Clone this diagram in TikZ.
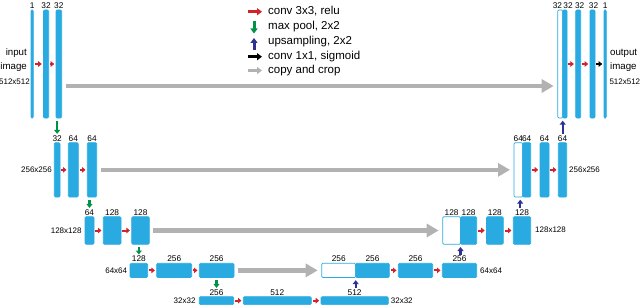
\documentclass[tikz,border=0pt]{standalone}
\usepackage{fontspec}
\setmainfont{Liberation Sans}
\usetikzlibrary{arrows.meta}
\definecolor{barblue}{RGB}{41,171,226}
\definecolor{convred}{RGB}{210,35,42}
\definecolor{poolgreen}{RGB}{0,146,69}
\definecolor{upnavy}{RGB}{46,49,146}
\definecolor{copygray}{RGB}{178,178,178}
\newcommand\ubar[6][bar]{\node[#1, minimum width={(#4-#2)*1pt}, minimum height={(#5-#3)*1pt}] (#6) at ({(#2+#4)/2},{(#3+#5)/2}) {};}
\tikzset{
  bar/.style={draw=barblue, fill=barblue, line width=0.7pt, rounded corners=1.2pt, inner sep=0pt, outer sep=0pt},
  wbar/.style={bar, fill=white},
  num/.style={font=\fontsize{8.3}{9}\selectfont, inner sep=0pt, anchor=base},
  dimlbl/.style={font=\fontsize{8}{9}\selectfont, inner sep=0pt, text height=5.8pt, text depth=0pt},
  io/.style={font=\fontsize{9.7}{11}\selectfont, inner sep=0pt, text height=7pt, text depth=2pt},
  leg/.style={font=\fontsize{11.5}{13}\selectfont, inner sep=0pt, anchor=west, text height=8.3pt, text depth=2.4pt},
  conv/.style={draw=convred, line width=2pt, -{Triangle[length=3.5pt,width=5.5pt]}, shorten <=1.2pt, shorten >=1.8pt},
  fin/.style={conv, draw=black},
  pool/.style={draw=poolgreen, line width=2.2pt, -{Triangle[length=4pt,width=6pt]}, shorten <=2.7pt, shorten >=8.8pt},
  upc/.style={draw=upnavy, line width=2.2pt, -{Triangle[length=4pt,width=6pt]}, shorten <=8.7pt, shorten >=2.7pt},
  copyc/.style={draw=copygray, line width=4.5pt, -{Triangle[length=12pt,width=13pt]}, shorten <=4pt, shorten >=4pt},
  legline/.style={line width=3pt, -{Triangle[length=5pt,width=7pt]}},
}
\begin{document}
\begin{tikzpicture}[x=1pt,y=-1pt]
\useasboundingbox (0,0) rectangle (640,305);
% ---------- legend ----------
\coordinate (lg1a) at (248,11.7); \coordinate (lg1b) at (262,11.7);
\coordinate (lg2a) at (254,21.5); \coordinate (lg2b) at (254,33.5);
\coordinate (lg3a) at (254,50);   \coordinate (lg3b) at (254,38);
\coordinate (lg4a) at (248,56.7); \coordinate (lg4b) at (262,56.7);
\coordinate (lg5a) at (248,70.5); \coordinate (lg5b) at (262,70.5);
\draw[legline, draw=convred] (lg1a) -- (lg1b);
\draw[legline, draw=poolgreen] (lg2a) -- (lg2b);
\draw[legline, draw=upnavy] (lg3a) -- (lg3b);
\draw[legline, draw=black] (lg4a) -- (lg4b);
\draw[legline, draw=copygray] (lg5a) -- (lg5b);
\node[leg] (lt1) at (268,11.7) {conv 3x3, relu};
\node[leg] (lt2) at (268,26.3) {max pool, 2x2};
\node[leg] (lt3) at (268,41.5) {upsampling, 2x2};
\node[leg] (lt4) at (268,56.3) {conv 1x1, sigmoid};
\node[leg] (lt5) at (268,70.5) {copy and crop};
% ---------- row 1 ----------
\ubar{31}{10}{33.3}{118}{r1a}
\ubar{43.5}{10}{48.7}{118}{r1b}
\ubar{56}{10}{61.7}{118}{r1c}
\ubar[wbar]{557.7}{10}{562.7}{118}{r1w}
\ubar{562.7}{10}{567}{118}{r1d}
\ubar{575.7}{10}{580.7}{118}{r1e}
\ubar{590}{10}{595}{118}{r1f}
\ubar{604}{10}{606.3}{118}{r1g}
% ---------- row 2 ----------
\ubar{54.3}{142.7}{60}{197}{r2a}
\ubar{68.3}{142.7}{78.3}{197}{r2b}
\ubar{87.3}{142.7}{96.7}{197}{r2c}
\ubar[wbar]{514}{142.7}{522.7}{197}{r2w}
\ubar{522.7}{142.7}{530.7}{197}{r2d}
\ubar{540}{142.7}{549}{197}{r2e}
\ubar{558.3}{142.7}{566.7}{197}{r2f}
% ---------- row 3 ----------
\ubar{85}{216.7}{94}{244.3}{r3a}
\ubar{103.3}{216.7}{121}{244.3}{r3b}
\ubar{131.7}{216.7}{149.3}{244.3}{r3c}
\ubar[wbar]{442.7}{216.7}{460.5}{244.3}{r3w}
\ubar{460.5}{216.7}{476.7}{244.3}{r3d}
\ubar{486.5}{216.7}{503.3}{244.3}{r3e}
\ubar{513.3}{216.7}{530.7}{244.3}{r3f}
% ---------- row 4 ----------
\ubar{130}{263.3}{147.7}{277.5}{r4a}
\ubar{156.7}{263.3}{191.7}{277.5}{r4b}
\ubar{199.3}{263.3}{234}{277.5}{r4c}
\ubar[wbar]{321.7}{263.3}{355.7}{277.5}{r4w}
\ubar{355.7}{263.3}{389.3}{277.5}{r4d}
\ubar{398.3}{263.3}{432.7}{277.5}{r4e}
\ubar{442.3}{263.3}{476.7}{277.5}{r4f}
% ---------- row 5 ----------
\ubar{199.3}{296.7}{233.7}{304.6}{r5a}
\ubar{243.3}{296.7}{311.3}{304.6}{r5b}
\ubar{321}{296.7}{388.3}{304.6}{r5c}
% ---------- channel labels ----------
\node[num] (n1a) at ([yshift=1.7pt]r1a.north) {1};
\node[num] (n1b) at ([yshift=1.7pt]r1b.north) {32};
\node[num] (n1c) at ([yshift=1.7pt]r1c.north) {32};
\node[num, anchor=base east] (n1w) at ([yshift=1.7pt,xshift=-0.5pt]r1w.north east) {32};
\node[num, anchor=base west] (n1d) at ([yshift=1.7pt,xshift=0.5pt]r1d.north west) {32};
\node[num] (n1e) at ([yshift=1.7pt,xshift=1.5pt]r1e.north) {32};
\node[num] (n1f) at ([yshift=1.7pt,xshift=1pt]r1f.north) {32};
\node[num] (n1g) at ([yshift=1.7pt]r1g.north) {1};
\node[num] (n2a) at ([yshift=1.7pt]r2a.north) {32};
\node[num] (n2b) at ([yshift=1.7pt]r2b.north) {64};
\node[num] (n2c) at ([yshift=1.7pt]r2c.north) {64};
\node[num] (n2w) at ([yshift=1.7pt]r2w.north) {64};
\node[num] (n2d) at ([yshift=1.7pt]r2d.north) {64};
\node[num] (n2e) at ([yshift=1.7pt]r2e.north) {64};
\node[num] (n2f) at ([yshift=1.7pt]r2f.north) {64};
\node[num] (n3a) at ([yshift=1.7pt]r3a.north) {64};
\node[num] (n3b) at ([yshift=1.7pt]r3b.north) {128};
\node[num] (n3c) at ([yshift=1.7pt]r3c.north) {128};
\node[num] (n3w) at ([yshift=1.7pt]r3w.north) {128};
\node[num] (n3d) at ([yshift=1.7pt]r3d.north) {128};
\node[num] (n3e) at ([yshift=1.7pt]r3e.north) {128};
\node[num] (n3f) at ([yshift=1.7pt]r3f.north) {128};
\node[num] (n4a) at ([yshift=1.7pt]r4a.north) {128};
\node[num] (n4b) at ([yshift=1.7pt]r4b.north) {256};
\node[num] (n4c) at ([yshift=1.7pt]r4c.north) {256};
\node[num] (n4w) at ([yshift=1.7pt]r4w.north) {256};
\node[num] (n4d) at ([yshift=1.7pt]r4d.north) {256};
\node[num] (n4e) at ([yshift=1.7pt]r4e.north) {256};
\node[num] (n4f) at ([yshift=1.7pt]r4f.north) {256};
\node[num] (n5a) at ([yshift=1.7pt]r5a.north) {256};
\node[num] (n5b) at ([yshift=1.7pt]r5b.north) {512};
\node[num] (n5c) at ([yshift=1.7pt]r5c.north) {512};
% ---------- size labels ----------
\node[io, anchor=east] (inp1) at (27,53) {input};
\node[io, anchor=east] (inp2) at (27,67) {image};
\node[dimlbl, anchor=east] (inp3) at (30,82) {512x512};
\node[io, anchor=west] (out1) at (610,53) {output};
\node[io, anchor=west] (out2) at (610,67) {image};
\node[dimlbl, anchor=west] (out3) at (609.3,82) {512x512};
\node[dimlbl, anchor=east] (s2l) at (52,170) {256x256};
\node[dimlbl, anchor=west] (s2r) at (569,170) {256x256};
\node[dimlbl, anchor=east] (s3l) at (81.7,230.5) {128x128};
\node[dimlbl, anchor=west] (s3r) at (535,230) {128x128};
\node[dimlbl, anchor=east] (s4l) at (127.3,270.5) {64x64};
\node[dimlbl, anchor=west] (s4r) at (480,270.5) {64x64};
\node[dimlbl, anchor=east] (s5l) at (195.7,300.6) {32x32};
\node[dimlbl, anchor=west] (s5r) at (390.7,300.6) {32x32};
% ---------- conv arrows ----------
\draw[conv] (r1a) -- (r1b);
\draw[conv] (r1b) -- (r1c);
\draw[conv] (r1d) -- (r1e);
\draw[conv] (r1e) -- (r1f);
\draw[fin] (r1f) -- (r1g);
\draw[conv] (r2a) -- (r2b);
\draw[conv] (r2b) -- (r2c);
\draw[conv] (r2d) -- (r2e);
\draw[conv] (r2e) -- (r2f);
\draw[conv] (r3a) -- (r3b);
\draw[conv] (r3b) -- (r3c);
\draw[conv] (r3d) -- (r3e);
\draw[conv] (r3e) -- (r3f);
\draw[conv] (r4a) -- (r4b);
\draw[conv] (r4b) -- (r4c);
\draw[conv] (r4d) -- (r4e);
\draw[conv] (r4e) -- (r4f);
\draw[conv] (r5a) -- (r5b);
\draw[conv] (r5b) -- (r5c);
% ---------- max pool ----------
\draw[pool] (r2a.north |- r1c.south) -- (r2a.north);
\draw[pool] (r3a.north |- r2c.south) -- (r3a.north);
\draw[pool] (r4a.north |- r3c.south) -- (r4a.north);
\draw[pool] (r5a.north |- r4c.south) -- (r5a.north);
% ---------- upsampling ----------
\draw[upc] (r5c.north -| r4w.south east) -- (r4w.south east);
\draw[upc] (r4f.north -| r3w.south east) -- (r3w.south east);
\draw[upc] ([xshift=-2.5pt]r3f.north -| r2w.south east) -- ([xshift=-2.5pt]r2w.south east);
\draw[upc] (r2f.north -| r1w.south east) -- (r1w.south east);
% ---------- copy and crop ----------
\draw[copyc] ([yshift=-22pt]r1c.east) -- ([yshift=-22pt]r1w.west);
\draw[copyc] (r2c) -- (r2w);
\draw[copyc] (r3c) -- (r3w);
\draw[copyc] (r4c) -- (r4w);
\end{tikzpicture}
\end{document}
